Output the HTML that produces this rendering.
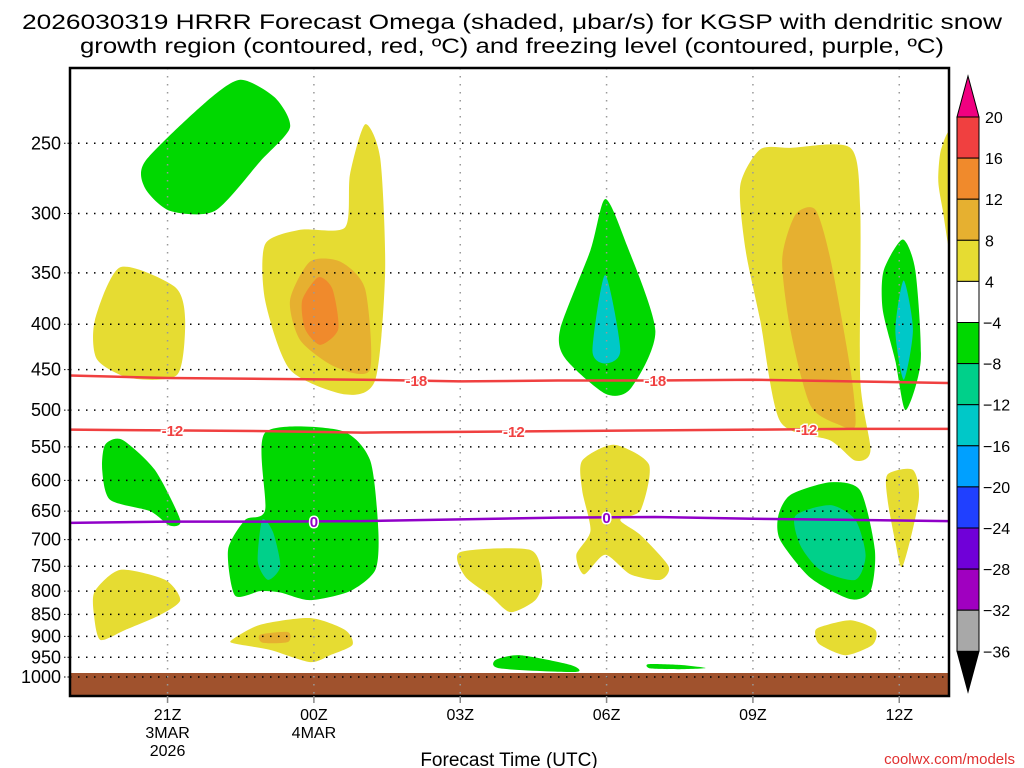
<!DOCTYPE html>
<html><head><meta charset="utf-8"><style>
html,body{margin:0;padding:0;background:#fff;width:1024px;height:768px;overflow:hidden}
svg{display:block;font-family:"Liberation Sans",sans-serif}
</style></head><body>
<svg id="chart" width="1024" height="768" viewBox="0 0 1024 768">
<text x="512" y="29" text-anchor="middle" font-size="21" fill="#000" textLength="980" lengthAdjust="spacingAndGlyphs">2026030319 HRRR Forecast Omega (shaded, μbar/s) for KGSP with dendritic snow</text>
<text x="512" y="53" text-anchor="middle" font-size="21" fill="#000" textLength="864" lengthAdjust="spacingAndGlyphs">growth region (contoured, red, ºC) and freezing level (contoured, purple, ºC)</text>
<g id="shades"></g>
<rect x="70" y="673" width="879" height="23" fill="#a0522d"/>
<g id="grid"></g>
<g id="contours"></g>
<rect x="70" y="68" width="879" height="628" fill="none" stroke="#000" stroke-width="2.5"/>
<g id="axes"></g>
<text x="509" y="766" text-anchor="middle" font-size="19" fill="#000">Forecast Time (UTC)</text>
<text x="1015" y="764" text-anchor="end" font-size="15" fill="#e03030">coolwx.com/models</text>
<g id="cbar"></g>
</svg>
<script>
const pressureTicks=[250,300,350,400,450,500,550,600,650,700,750,800,850,900,950,1000];
const timeTicks=[2,5,8,11,14,17];
const timeLabels=[["21Z","3MAR","2026"],["00Z","4MAR"],["03Z"],["06Z"],["09Z"],["12Z"]];
const cbarLevels=[20,16,12,8,4,-4,-8,-12,-16,-20,-24,-28,-32,-36];
const cbarColors=["#f04040","#f08a2c","#e6b030","#e6dc32","#ffffff","#00d800","#00d08a","#00c8c8","#00a0ff","#2040ff","#7000d8","#a000c0","#a8a8a8"];
const contourHours=[0,2,4,6,8,10,12,14,16,18];
const c18=[457,460,461,462,464,463,463,462,464,466];
const c12=[526,527,528,530,529,528,527,526,525,525];
const c0=[670,668,668,667,664,661,660,663,665,667];
const c18Labels=[7.1,12];
const c12Labels=[2.1,9.1,15.1];
const c0Labels=[5,11];
const blobs=[
["#00d800",[[1.54,262],[2.77,225],[3.49,212],[4.2,222],[4.51,240],[3.9,262],[2.97,298],[2.05,298],[1.54,281]]],
["#e6dc32",[[0.51,396],[1.03,345],[2.15,363],[2.36,395],[2.2,456],[1.23,460],[0.55,438]]],
["#e6dc32",[[4,325],[4.72,313],[5.64,311],[5.74,271],[6.05,238],[6.36,260],[6.46,349],[6.26,462],[5.64,480],[4.51,450],[4,376]]],
["#e6b030",[[4.51,376],[4.92,340],[5.54,340],[6.05,365],[6.15,450],[5.44,447],[4.72,417]]],
["#f08a2c",[[4.76,376],[5.09,354],[5.38,365],[5.5,405],[5.13,422],[4.82,405]]],
["#00d800",[[10.05,405],[10.67,330],[10.97,289],[11.38,322],[12,407],[11.49,473],[10.97,479],[10.15,437]]],
["#00c8c8",[[10.71,428],[10.97,352],[11.28,428],[10.97,443]]],
["#e6dc32",[[13.74,279],[14.15,254],[14.77,253],[16,253],[16.2,297],[16.2,462],[16.41,555],[16.1,570],[15.59,541],[14.56,515],[14.15,396],[13.85,330]]],
["#e6b030",[[14.6,338],[14.87,301],[15.28,297],[15.59,338],[16,450],[16.1,520],[15.79,520],[15.18,494],[14.77,406]]],
["#00d800",[[16.68,348],[17.07,321],[17.33,348],[17.44,440],[17.13,500],[16.92,440],[16.66,385]]],
["#00c8c8",[[16.92,406],[17.09,357],[17.28,406],[17.09,462]]],
["#e6dc32",[[17.85,255],[18.05,245],[18.05,330],[17.89,297],[17.8,276]]],
["#00d800",[[0.72,547],[1.07,540],[1.74,584],[2.26,665],[2.05,675],[1.64,650],[0.82,631],[0.66,584]]],
["#00d800",[[4,530],[5.54,527],[6.15,569],[6.32,682],[6.26,757],[5.74,800],[4.92,819],[4.31,803],[3.9,800],[3.38,809],[3.24,719],[3.59,665],[4,648]]],
["#00d08a",[[3.94,665],[4.16,686],[4.31,750],[4.06,777],[3.85,741]]],
["#e6dc32",[[10.5,570],[11.15,547],[11.87,576],[11.7,648],[11.28,665],[11.7,692],[12.27,750],[12.1,777],[11.49,766],[10.97,728],[10.54,766],[10.38,728],[10.67,684],[10.5,616]]],
["#00d800",[[14.77,623],[15.59,603],[16.2,616],[16.5,719],[16.41,800],[16,817],[15.18,773],[14.56,701],[14.52,658]]],
["#00d08a",[[14.87,658],[15.59,640],[16.1,665],[16.31,729],[16.1,777],[15.38,757],[14.97,710]]],
["#e6dc32",[[16.76,591],[17.28,584],[17.4,631],[17.07,750],[16.92,704],[16.76,631]]],
["#e6dc32",[[0.51,800],[1.03,757],[1.95,777],[2.26,819],[1.85,851],[1.13,885],[0.62,908],[0.49,850]]],
["#e6dc32",[[3.32,908],[3.9,873],[4.92,858],[5.64,885],[5.79,920],[5.33,945],[4.92,962],[4.1,932],[3.38,917]]],
["#e6b030",[[3.9,896],[4.47,890],[4.47,913],[3.95,915]]],
["#e6dc32",[[8,723],[9.44,719],[9.68,777],[9.54,819],[9.03,845],[8.62,810],[8.1,770]]],
["#e6dc32",[[15.34,880],[16,863],[16.51,885],[16.45,920],[15.9,945],[15.38,920],[15.28,898]]],
["#00d800",[[8.72,957],[9.23,945],[10.26,969],[10.36,987],[8.82,978]]],
["#00d800",[[11.86,967],[12.5,969],[13.03,977],[12.5,980],[11.9,978]]]
];
const NS="http://www.w3.org/2000/svg";
const X=h=>70+h*48.78;
const Y=p=>677+385*Math.log(p/1000);
function mk(t,a,parent){const e=document.createElementNS(NS,t);for(const k in a)e.setAttribute(k,a[k]);parent.appendChild(e);return e;}
function smooth(pts){const n=pts.length;let d=`M${pts[0][0]},${pts[0][1]}`;const s=8;
for(let i=0;i<n;i++){const p0=pts[(i-1+n)%n],p1=pts[i],p2=pts[(i+1)%n],p3=pts[(i+2)%n];
d+=`C${p1[0]+(p2[0]-p0[0])/s},${p1[1]+(p2[1]-p0[1])/s} ${p2[0]-(p3[0]-p1[0])/s},${p2[1]-(p3[1]-p1[1])/s} ${p2[0]},${p2[1]}`;}return d+"Z";}
const shades=document.getElementById('shades');
const clip=mk('clipPath',{id:'pc'},shades);mk('rect',{x:70,y:68,width:879,height:628},clip);
const sg=mk('g',{'clip-path':'url(#pc)'},shades);
blobs.forEach((b,i)=>{const e=mk('path',{d:smooth(b[1].map(q=>[X(q[0]),Y(q[1])])),fill:b[0]},sg);

});
const grid=document.getElementById('grid'),axes=document.getElementById('axes');
pressureTicks.forEach(p=>{const y=Y(p);
const l=mk('line',{x1:70,x2:949,y1:y,y2:y,stroke:'#000','stroke-width':1.5,'stroke-dasharray':'1.5 6.5'},grid);


mk('line',{x1:64,x2:70,y1:y,y2:y,stroke:'#000','stroke-width':1,'stroke-dasharray':'1.5 2'},axes);
const t=mk('text',{x:61,y:y+6,'text-anchor':'end','font-size':18,fill:'#000'},axes);t.textContent=p;

});
timeTicks.forEach((h,i)=>{const x=X(h);
const l=mk('line',{x1:x,x2:x,y1:68,y2:696,stroke:'#999','stroke-width':1.5,'stroke-dasharray':'1.5 6.5'},grid);


mk('line',{x1:x,x2:x,y1:696,y2:703,stroke:'#888','stroke-width':1.5},axes);
timeLabels[i].forEach((s,j)=>{const t=mk('text',{x:x,y:720+j*18,'text-anchor':'middle','font-size':16,fill:'#000'},axes);t.textContent=s;

});});
const cg=document.getElementById('contours');
function contour(vals,col,labs,txt,name){
const pts=contourHours.map((h,i)=>[X(h),Y(vals[i])]);
let d='M'+pts.map(p=>p.join(',')).join('L');
const e=mk('path',{d:d,fill:'none',stroke:col,'stroke-width':2.5,'clip-path':'url(#pc)'},cg);


labs.forEach(h=>{let k=0;while(k<contourHours.length-2&&contourHours[k+1]<h)k++;
const f=(h-contourHours[k])/(contourHours[k+1]-contourHours[k]);
const y=Y(vals[k]+(vals[k+1]-vals[k])*f),x=X(h);
const t=mk('text',{x:x,y:y+5.5,'text-anchor':'middle','font-size':15,'font-weight':'bold',fill:col,stroke:'#fff','stroke-width':3,'paint-order':'stroke'},cg);t.textContent=txt;

});}
contour(c18,'#f04040',c18Labels,'-18','contour-minus-18');
contour(c12,'#f04040',c12Labels,'-12','contour-minus-12');
contour(c0,'#9000c8',c0Labels,'0','freezing-level-contour');
const cb=document.getElementById('cbar');const bx=957,bw=22,cbTop=117,bh=41.1;
mk('path',{d:`M${bx},${cbTop}L${bx+bw/2},76L${bx+bw},${cbTop}Z`,fill:'#f00080',stroke:'#000','stroke-width':1},cb);
mk('path',{d:`M${bx},${cbTop+13*bh}L${bx+bw/2},692L${bx+bw},${cbTop+13*bh}Z`,fill:'#000',stroke:'#000','stroke-width':1},cb);
cbarColors.forEach((c,i)=>{const r=mk('rect',{x:bx,y:cbTop+i*bh,width:bw,height:bh,fill:c,stroke:'#000','stroke-width':1},cb);

});
cbarLevels.forEach((v,i)=>{const t=mk('text',{x:v<0?983:985,y:cbTop+i*bh+6,'font-size':16,fill:'#000'},cb);t.textContent=v<0?'−'+(-v):v;

});
</script>
</body></html>
